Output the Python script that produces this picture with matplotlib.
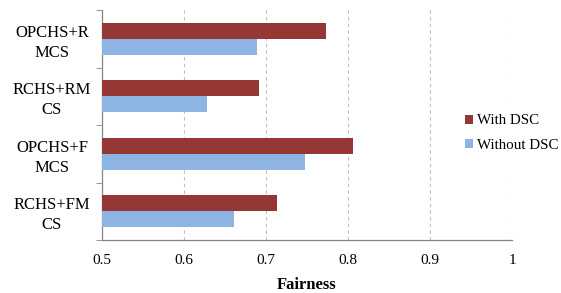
import numpy as np
import matplotlib.pyplot as plt

categories = ['OPCHS+R\nMCS', 'RCHS+RM\nCS', 'OPCHS+F\nMCS', 'RCHS+FM\nCS']
with_dsc = [0.773, 0.691, 0.806, 0.714]
without_dsc = [0.689, 0.628, 0.748, 0.661]
x_ticks = [0.5, 0.6, 0.7, 0.8, 0.9, 1.0]
x_labels = ['0.5', '0.6', '0.7', '0.8', '0.9', '1']

plt.rcParams['font.family'] = ['Liberation Serif', 'DejaVu Serif']

fig = plt.figure(figsize=(5.61, 2.93), dpi=100)
ax = fig.add_axes([102 / 561, 1 - 240 / 293, 410 / 561, 230 / 293])

# categories from top to bottom
y_pos = np.arange(len(categories))[::-1]
h = 0.28
ax.barh(y_pos + h / 2, with_dsc, height=h, left=0, color='#953735', label='With DSC', zorder=3)
ax.barh(y_pos - h / 2, without_dsc, height=h, left=0, color='#8EB4E3', label='Without DSC', zorder=3)

ax.set_xlim(0.5, 1.0)
ax.set_ylim(-0.5, len(categories) - 0.5)
ax.set_xticks(x_ticks)
ax.set_xticklabels(x_labels, fontsize=11)
ax.set_yticks(y_pos)
ax.set_yticklabels(categories, fontsize=12, linespacing=1.35, ha='center')
ax.set_yticks(np.arange(len(categories) + 1) - 0.5, minor=True)
ax.tick_params(axis='y', which='major', length=0, pad=36)
ax.tick_params(axis='y', which='minor', length=4, color='#868686', direction='out')
ax.tick_params(axis='x', length=0, pad=10)
ax.xaxis.grid(True, linestyle=(0, (3, 3)), color='#BFBFBF', linewidth=0.8, zorder=0)

for s in ['top', 'right']:
    ax.spines[s].set_visible(False)
for s in ['left', 'bottom']:
    ax.spines[s].set_color('#868686')
    ax.spines[s].set_linewidth(0.9)

ax.set_xlabel('Fairness', fontsize=12, fontweight='bold', labelpad=7)

leg = fig.legend(loc='center left', bbox_to_anchor=(462 / 561, 1 - 133 / 293),
                 frameon=True, fontsize=10.8, handlelength=0.55, handleheight=0.55,
                 handletextpad=0.25, labelspacing=0.75, borderpad=0.2, borderaxespad=0)
leg.get_frame().set_edgecolor('none')
leg.get_frame().set_facecolor('white')

fig.savefig('out.png', dpi=100)
